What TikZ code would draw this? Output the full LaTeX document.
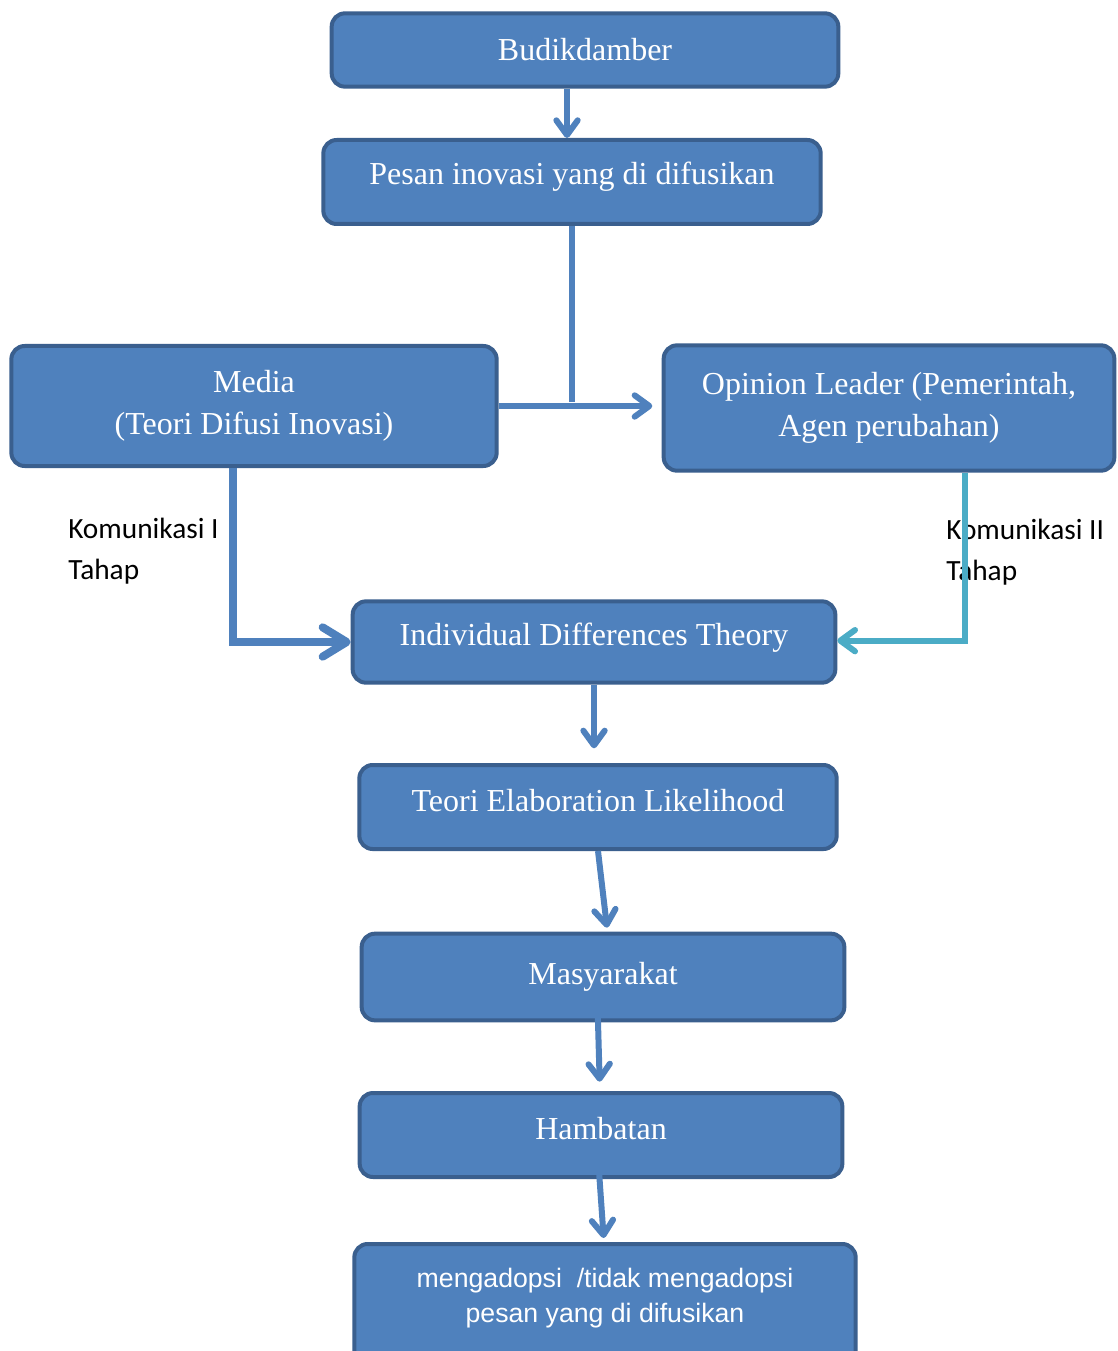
\documentclass[tikz,border=0pt]{standalone}
\usepackage{fontspec}
\setmainfont{Liberation Serif}
\newfontfamily\calibrifont{Carlito}
\newfontfamily\arialfont{Liberation Sans}
\usetikzlibrary{arrows.meta, positioning, calc}
\definecolor{boxblue}{HTML}{4F81BD}
\definecolor{boxedge}{HTML}{3A5F8E}
\definecolor{tealline}{HTML}{4BACC6}

\tikzset{
  flowbox/.style={draw=boxedge, fill=boxblue, line width=3pt, rounded corners=10pt,
    text=white, align=center, font=\fontsize{24}{31.5}\selectfont},
  lifted/.style={text height=16.5pt, text depth=#1},
  flowarrow/.style={draw=boxblue, line width=4.5pt,
    -{Straight Barb[length=11pt, width=16pt, round]}},
  sidelabel/.style={font=\calibrifont\fontsize{22}{31}\selectfont, align=left, inner sep=0pt, anchor=west}
}

\begin{document}
\begin{tikzpicture}[x=0.75pt, y=-0.75pt]
\useasboundingbox (0,0) rectangle (1117,1351);
\fill[white] (0,0) rectangle (1117,1351);

% side labels
\node[sidelabel] (kom1) at (68,551) {Komunikasi I\\Tahap};
\node[sidelabel] (kom2) at (946,552) {Komunikasi II\\Tahap};

% boxes
\node[flowbox, minimum width=380pt, minimum height=55pt] (budik) at (585,50) {Budikdamber};
\node[flowbox, lifted=12pt, minimum width=373pt, minimum height=63pt] (pesan) at (572,182) {Pesan inovasi yang di difusikan};
\node[flowbox, minimum width=364pt, minimum height=90pt] (media) at (254,406) {Media\\(Teori Difusi Inovasi)};
\node[flowbox, minimum width=338pt, minimum height=94pt] (opinion) at (889,408) {Opinion Leader (Pemerintah,\\Agen perubahan)};
\node[flowbox, lifted=12pt, minimum width=362pt, minimum height=61pt] (indiv) at (594,642) {Individual Differences Theory};
\node[flowbox, lifted=10.5pt, minimum width=358pt, minimum height=63pt] (teori) at (598,807) {Teori Elaboration Likelihood};
\node[flowbox, minimum width=362pt, minimum height=65pt] (masy) at (603,977) {Masyarakat};
\node[flowbox, lifted=10.5pt, minimum width=362pt, minimum height=63pt] (hamb) at (601,1135) {Hambatan};
\node[flowbox, minimum width=376pt, minimum height=98pt, anchor=north] (adopt) at (605,1242) {};
\node[text=white, align=center, font=\arialfont\fontsize{20}{26}\selectfont] (adopttxt)
  at ([yshift=-42pt]adopt.north) {mengadopsi\ \ /tidak mengadopsi\\pesan yang di difusikan};

% connectors
\draw[flowarrow] ([xshift=-13.5pt]budik.south) -- ([xshift=-13.5pt]budik.south |- pesan.north);
\draw[draw=boxblue, line width=4.5pt] (pesan.south) -- ([yshift=3pt]pesan.south |- media.east);
\draw[flowarrow, shorten >=7pt] (media.east) -- (media.east -| opinion.west);
\draw[flowarrow, line width=6pt, -{Straight Barb[length=18pt, width=22pt, round]}]
  ([xshift=-16pt]media.south) |- (indiv.west);
\draw[flowarrow, draw=tealline] ([xshift=57pt]opinion.south) |- ([yshift=1pt]indiv.east);
\draw[flowarrow, shorten >=11pt] (indiv.south) -- (indiv.south |- teori.north);
\draw[flowarrow] (teori.south) -- ([xshift=3pt, yshift=3pt]masy.north);
\draw[flowarrow] ([xshift=-4pt, yshift=9pt]masy.south) -- ([xshift=-1pt, yshift=7pt]hamb.north);
\draw[flowarrow] ([xshift=-2pt, yshift=13pt]hamb.south) -- ([xshift=-1pt, yshift=3pt]adopt.north);
\end{tikzpicture}
\end{document}
